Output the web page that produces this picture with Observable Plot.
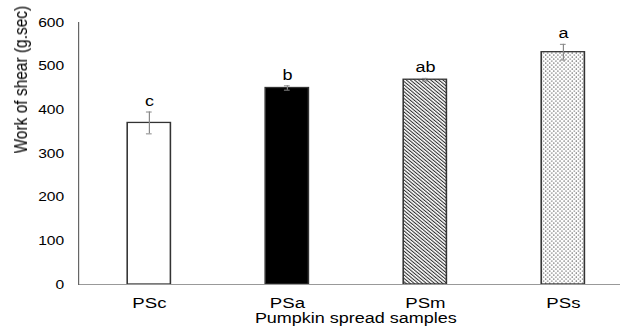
<!DOCTYPE html>
<html><head><meta charset="utf-8">
<script src="https://cdn.jsdelivr.net/npm/d3@7"></script>
<script src="https://cdn.jsdelivr.net/npm/@observablehq/plot@0.6"></script>
<style>
html,body{margin:0;padding:0;background:#fff;overflow:hidden;}
#chart{width:517px;transform:scaleX(1.2);transform-origin:0 0;}
</style></head><body><div id="chart"></div>
<script>
const samples = ["PSc", "PSa", "PSm", "PSs"];
const means = [370, 450, 469, 532];
const errors = [25, 5, 3, 18];
const letters = ["c", "b", "ab", "a"];
const fills = ["white", "black", "url(#hatch)", "url(#dots)"];
const yTicks = [0, 100, 200, 300, 400, 500, 600];
const xTitle = "Pumpkin spread samples";
const yTitle = "Work of shear (g.sec)";

const data = samples.map((s, i) => ({
  sample: s, mean: means[i], lo: means[i] - errors[i], hi: means[i] + errors[i], letter: letters[i]
}));

const plot = Plot.plot({
  width: 517, height: 332,
  marginLeft: 65, marginRight: 0, marginTop: 22, marginBottom: 48,
  style: {fontFamily: "'Liberation Sans', Arial, sans-serif", background: "white", color: "#000", overflow: "visible"},
  x: {domain: samples, range: [65, 528], paddingInner: 0.683, paddingOuter: 0.3415, label: null},
  y: {domain: [0, 600], label: null},
  marks: [
    Plot.axisY({ticks: yTicks, tickSize: 0, tickPadding: 12, fontSize: 13, label: null}),
    Plot.axisX({tickSize: 0, tickPadding: 12, fontSize: 15.5, label: null}),
    ...samples.map((s, i) => Plot.barY(data.filter(d => d.sample === s), {x: "sample", y: "mean", fill: fills[i], stroke: "#333", strokeWidth: 1.3})),
    Plot.ruleX(data, {x: "sample", y1: "lo", y2: "hi", stroke: "#888", strokeWidth: 1}),
    Plot.tickY(data, {x: "sample", y: "lo", stroke: "#888", strokeWidth: 1, insetLeft: 15.6, insetRight: 15.6}),
    Plot.tickY(data, {x: "sample", y: "hi", stroke: "#888", strokeWidth: 1, insetLeft: 15.6, insetRight: 15.6}),
    Plot.text(data, {x: "sample", y: "hi", text: "letter", dy: -11, lineAnchor: "middle", fontSize: 15}),
    Plot.ruleY([0], {stroke: "#999", strokeWidth: 1.2}),
    Plot.frame({anchor: "left", stroke: "#666", strokeWidth: 1}),
    Plot.text([yTitle], {text: d => d, frameAnchor: "left", rotate: -90, dx: -48, lineAnchor: "middle", fontSize: 15.5}),
    Plot.text([xTitle], {text: d => d, frameAnchor: "bottom", dy: 28, dx: 5, lineAnchor: "top", fontSize: 15})
  ]
});

d3.select(plot).insert("defs", ":first-child").html(`
  <pattern id="hatch" width="2.4" height="2.4" patternUnits="userSpaceOnUse" patternTransform="rotate(-45)">
    <rect width="2.4" height="2.4" fill="white"/>
    <line x1="0.5" y1="0" x2="0.5" y2="2.4" stroke="#222" stroke-width="0.9"/>
  </pattern>
  <pattern id="dots" width="3.4" height="4" patternUnits="userSpaceOnUse">
    <rect width="3.4" height="4" fill="white"/>
    <circle cx="0.85" cy="1" r="0.6" fill="#222"/>
    <circle cx="2.55" cy="3" r="0.6" fill="#222"/>
  </pattern>
`);

document.getElementById("chart").appendChild(plot);
</script></body></html>
